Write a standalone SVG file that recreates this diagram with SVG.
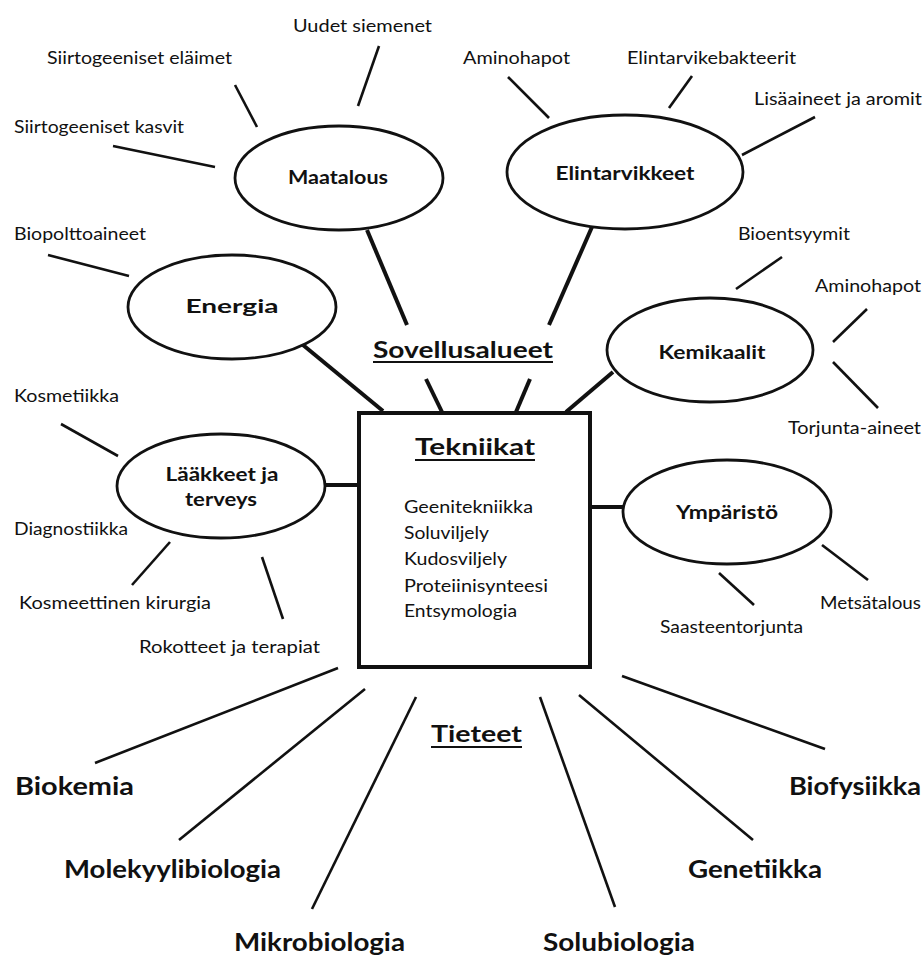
<svg xmlns="http://www.w3.org/2000/svg" width="923" height="956" viewBox="0 0 923 956">
<style>
text{font-family:Lato,"Open Sans","DejaVu Sans",sans-serif;fill:#111}
.s{font-size:18px}
.b{font-size:18px;font-weight:bold;text-anchor:middle}
.h{font-size:23px;font-weight:bold}
.L{font-size:24px;font-weight:bold}
.el{fill:#fff;stroke:#111;stroke-width:2.8}
.thick{stroke:#111;stroke-width:4;fill:none}
.thin{stroke:#111;stroke-width:2.6;fill:none}
.ul{stroke:#111;stroke-width:2.2}
</style>
<rect width="923" height="956" fill="#fff"/>
<g id="connectors">
<line class="thick" x1="367" y1="230" x2="407" y2="325"/>
<line class="thick" x1="426" y1="379" x2="442" y2="412"/>
<line class="thick" x1="592" y1="227" x2="549" y2="325"/>
<line class="thick" x1="530" y1="379" x2="516" y2="412"/>
<line class="thick" x1="303" y1="345" x2="383" y2="411"/>
<line class="thick" x1="613" y1="372" x2="566" y2="412"/>
<line class="thick" x1="325" y1="485" x2="359" y2="485"/>
<line class="thick" x1="590" y1="507" x2="623" y2="507"/>
<line class="thin" x1="379" y1="46" x2="358" y2="106"/>
<line class="thin" x1="235" y1="85" x2="257" y2="127"/>
<line class="thin" x1="113" y1="146" x2="215" y2="167"/>
<line class="thin" x1="48" y1="255" x2="129" y2="276"/>
<line class="thin" x1="508" y1="77" x2="549" y2="118"/>
<line class="thin" x1="692" y1="76" x2="669" y2="108"/>
<line class="thin" x1="815" y1="117" x2="742" y2="155"/>
<line class="thin" x1="782" y1="257" x2="736" y2="289"/>
<line class="thin" x1="867" y1="309" x2="833" y2="342"/>
<line class="thin" x1="833" y1="362" x2="878" y2="408"/>
<line class="thin" x1="822" y1="545" x2="868" y2="580"/>
<line class="thin" x1="719" y1="573" x2="754" y2="605"/>
<line class="thin" x1="61" y1="424" x2="118" y2="456"/>
<line class="thin" x1="170" y1="542" x2="132" y2="585"/>
<line class="thin" x1="262" y1="557" x2="283" y2="619"/>
<line class="thin" x1="338" y1="668" x2="95" y2="763"/>
<line class="thin" x1="365" y1="689" x2="179" y2="840"/>
<line class="thin" x1="416" y1="697" x2="312" y2="909"/>
<line class="thin" x1="540" y1="697" x2="615" y2="907"/>
<line class="thin" x1="579" y1="695" x2="753" y2="840"/>
<line class="thin" x1="622" y1="676" x2="825" y2="749"/>
</g>
<g id="tekniikat">
<rect x="359" y="413" width="231" height="254" fill="#fff" stroke="#111" stroke-width="4"/>
<text class="h" x="415" y="455" textLength="120" lengthAdjust="spacingAndGlyphs">Tekniikat</text>
<line class="ul" x1="415" y1="460" x2="535" y2="460"/>
<text class="s" x="404" y="513" textLength="129" lengthAdjust="spacingAndGlyphs">Geenitekniikka</text>
<text class="s" x="404" y="539" textLength="85" lengthAdjust="spacingAndGlyphs">Soluviljely</text>
<text class="s" x="404" y="565" textLength="103" lengthAdjust="spacingAndGlyphs">Kudosviljely</text>
<text class="s" x="404" y="592" textLength="144" lengthAdjust="spacingAndGlyphs">Proteiinisynteesi</text>
<text class="s" x="404" y="617" textLength="113" lengthAdjust="spacingAndGlyphs">Entsymologia</text>
</g>
<g id="sovellusalueet">
<text class="h" x="373" y="358" textLength="180" lengthAdjust="spacingAndGlyphs">Sovellusalueet</text>
<line class="ul" x1="373" y1="362" x2="553" y2="362"/>
</g>
<g id="tieteet">
<text class="h" x="431" y="742" textLength="91" lengthAdjust="spacingAndGlyphs">Tieteet</text>
<line class="ul" x1="431" y1="747" x2="522" y2="747"/>
</g>
<g id="maatalous">
<ellipse class="el" cx="339" cy="178" rx="104" ry="52"/>
<text class="b" x="338" y="184" textLength="100" lengthAdjust="spacingAndGlyphs">Maatalous</text>
</g>
<g id="elintarvikkeet">
<ellipse class="el" cx="625" cy="172" rx="118" ry="57"/>
<text class="b" x="625" y="180" textLength="139" lengthAdjust="spacingAndGlyphs">Elintarvikkeet</text>
</g>
<g id="energia">
<ellipse class="el" cx="232" cy="307" rx="104" ry="52"/>
<text class="b" x="232" y="313" textLength="93" lengthAdjust="spacingAndGlyphs">Energia</text>
</g>
<g id="laakkeet">
<ellipse class="el" cx="221" cy="486" rx="104" ry="52"/>
<text class="b" x="222" y="481" textLength="113" lengthAdjust="spacingAndGlyphs">Lääkkeet ja</text>
<text class="b" x="221" y="506" textLength="72" lengthAdjust="spacingAndGlyphs">terveys</text>
</g>
<g id="kemikaalit">
<ellipse class="el" cx="710" cy="350" rx="103" ry="52"/>
<text class="b" x="712" y="359" textLength="107" lengthAdjust="spacingAndGlyphs">Kemikaalit</text>
</g>
<g id="ymparisto">
<ellipse class="el" cx="727" cy="512" rx="104" ry="52"/>
<text class="b" x="727" y="519" textLength="102" lengthAdjust="spacingAndGlyphs">Ympäristö</text>
</g>
<g id="labels">
<text class="s" x="293" y="32" textLength="139" lengthAdjust="spacingAndGlyphs">Uudet siemenet</text>
<text class="s" x="47" y="64" textLength="185" lengthAdjust="spacingAndGlyphs">Siirtogeeniset eläimet</text>
<text class="s" x="14" y="133" textLength="170" lengthAdjust="spacingAndGlyphs">Siirtogeeniset kasvit</text>
<text class="s" x="14" y="240" textLength="132" lengthAdjust="spacingAndGlyphs">Biopolttoaineet</text>
<text class="s" x="463" y="64" textLength="107" lengthAdjust="spacingAndGlyphs">Aminohapot</text>
<text class="s" x="627" y="64" textLength="169" lengthAdjust="spacingAndGlyphs">Elintarvikebakteerit</text>
<text class="s" x="754" y="105" textLength="168" lengthAdjust="spacingAndGlyphs">Lisäaineet ja aromit</text>
<text class="s" x="738" y="240" textLength="112" lengthAdjust="spacingAndGlyphs">Bioentsyymit</text>
<text class="s" x="815" y="292" textLength="106" lengthAdjust="spacingAndGlyphs">Aminohapot</text>
<text class="s" x="788" y="434" textLength="133" lengthAdjust="spacingAndGlyphs">Torjunta-aineet</text>
<text class="s" x="820" y="609" textLength="101" lengthAdjust="spacingAndGlyphs">Metsätalous</text>
<text class="s" x="660" y="633" textLength="143" lengthAdjust="spacingAndGlyphs">Saasteentorjunta</text>
<text class="s" x="14" y="402" textLength="105" lengthAdjust="spacingAndGlyphs">Kosmetiikka</text>
<text class="s" x="14" y="535" textLength="114" lengthAdjust="spacingAndGlyphs">Diagnostiikka</text>
<text class="s" x="19" y="609" textLength="192" lengthAdjust="spacingAndGlyphs">Kosmeettinen kirurgia</text>
<text class="s" x="139" y="653" textLength="181" lengthAdjust="spacingAndGlyphs">Rokotteet ja terapiat</text>
</g>
<g id="sciences">
<text class="L" x="15" y="795" textLength="119" lengthAdjust="spacingAndGlyphs">Biokemia</text>
<text class="L" x="64" y="878" textLength="217" lengthAdjust="spacingAndGlyphs">Molekyylibiologia</text>
<text class="L" x="234" y="951" textLength="171" lengthAdjust="spacingAndGlyphs">Mikrobiologia</text>
<text class="L" x="543" y="951" textLength="152" lengthAdjust="spacingAndGlyphs">Solubiologia</text>
<text class="L" x="688" y="878" textLength="134" lengthAdjust="spacingAndGlyphs">Genetiikka</text>
<text class="L" x="789" y="795" textLength="132" lengthAdjust="spacingAndGlyphs">Biofysiikka</text>
</g>
</svg>
